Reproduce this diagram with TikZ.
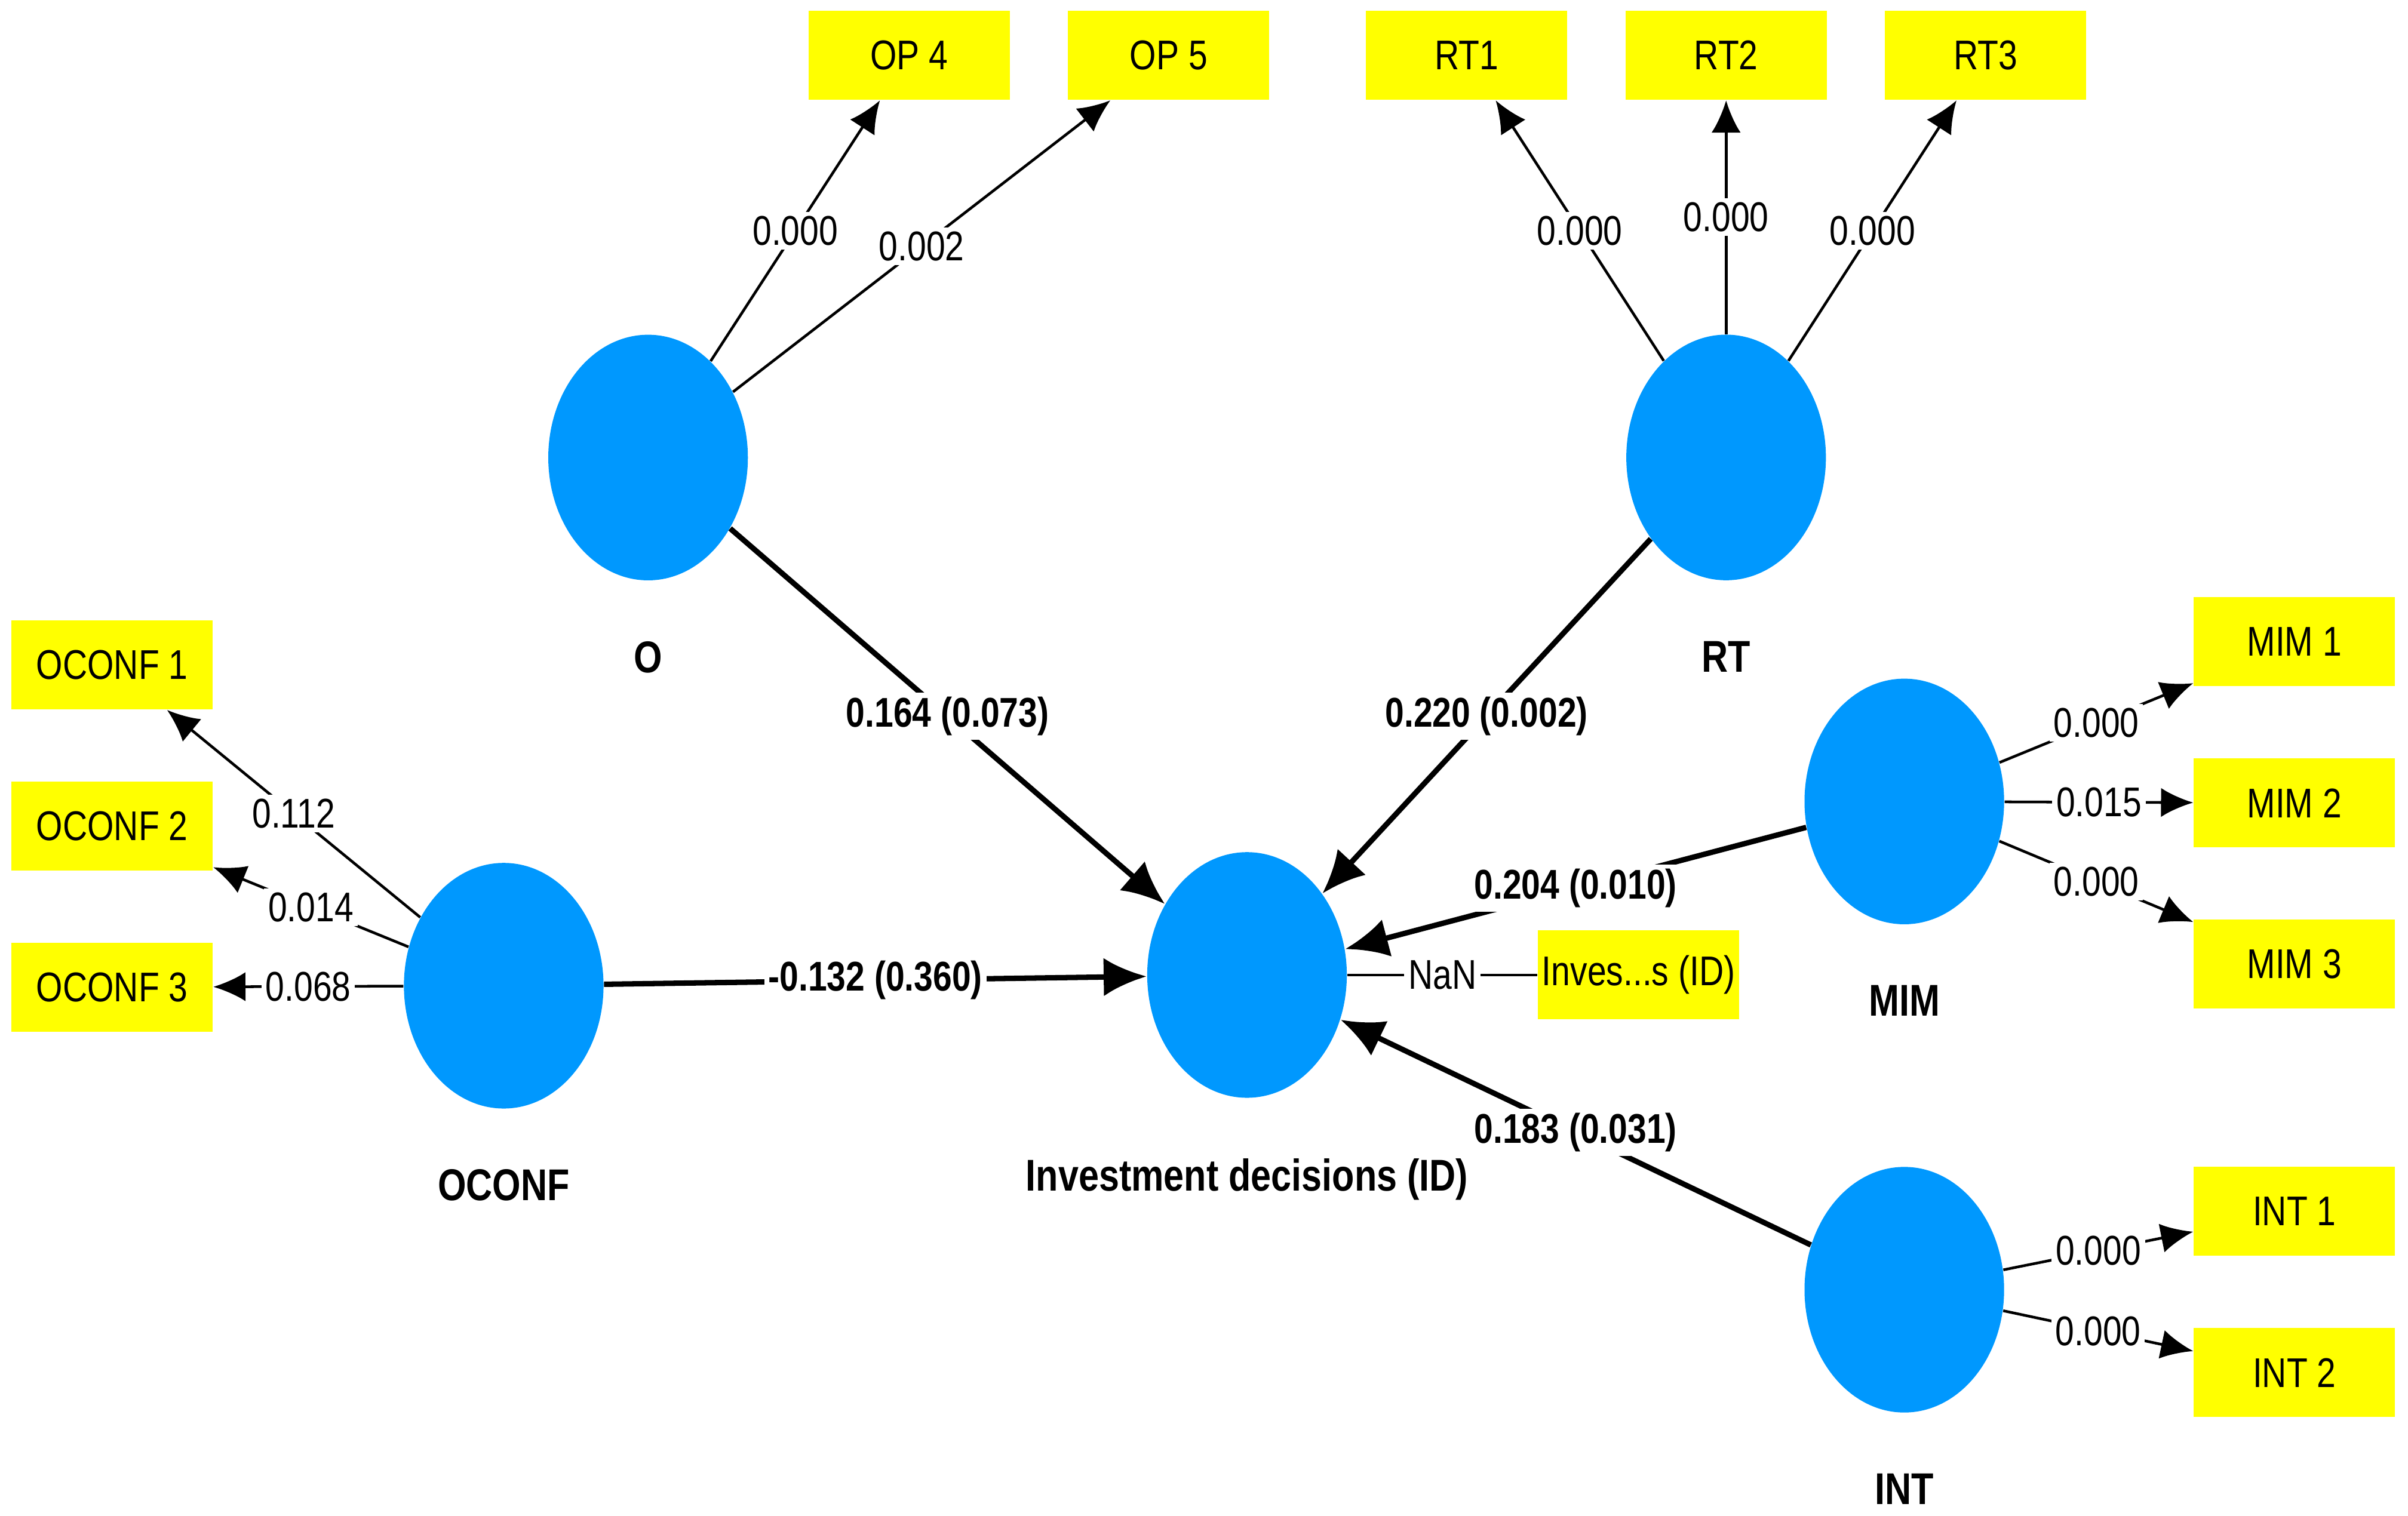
\documentclass[tikz,border=0pt]{standalone}
\usepackage{fontspec}
\setmainfont{Liberation Sans}[FakeStretch=0.82]
\usepackage{tikz}
\usetikzlibrary{positioning, arrows.meta, shapes}
\definecolor{lvblue}{HTML}{0098FE}
\definecolor{indyellow}{HTML}{FFFF00}
\tikzstyle{latent} = [ellipse, fill=lvblue, minimum width=2.6cm,
    minimum height=3.2cm, inner sep=0pt]
\tikzstyle{lvname} = [inner sep=0pt, yshift=-0.78cm, font=\fontsize{16.5}{18}\selectfont\bfseries]
\tikzstyle{indicator} = [rectangle, fill=indyellow, minimum width=2.62cm,
    minimum height=1.16cm, inner sep=0pt, font=\fontsize{15.4}{17}\selectfont]
\tikzstyle{line} = [draw, line width=1pt, -{Latex[length=0.42cm, width=0.38cm]}]
\tikzstyle{pathline} = [draw, line width=2pt, -{Latex[length=0.56cm, width=0.5cm]}]
\tikzstyle{weight} = [fill=white, inner sep=1.5pt, font=\fontsize{15.4}{17}\selectfont]
\tikzstyle{coef} = [fill=white, inner sep=1.5pt, font=\fontsize{15.4}{17}\selectfont\bfseries]

\begin{document}
\begin{tikzpicture}[x=0.02cm, y=-0.02cm]
    \useasboundingbox (0,0) rectangle (1568,987);

    \node[latent, label={[lvname]below:O}] (o) at (422,298) {};
    \node[indicator] (op4) at (592,36) {OP 4};
    \node[indicator, right of=op4, node distance=3.38cm] (op5) {OP 5};

    \node[indicator] (rt1) at (955,36) {RT1};
    \node[indicator, right of=rt1, node distance=3.38cm] (rt2) {RT2};
    \node[indicator, right of=rt2, node distance=3.38cm] (rt3) {RT3};
    \node[latent, below of=rt2, node distance=5.24cm, label={[lvname]below:RT}] (rt) {};

    \node[latent, label={[lvname]below:OCONF}] (oconf) at (328,642) {};
    \node[indicator] (oconf2) at (73,538) {OCONF 2};
    \node[indicator, above of=oconf2, node distance=2.1cm] (oconf1) {OCONF 1};
    \node[indicator, below of=oconf2, node distance=2.1cm] (oconf3) {OCONF 3};

    \node[latent, label={[lvname]below:Investment decisions (ID)}] (id) at (812,635) {};
    \node[indicator, right of=id, node distance=5.1cm] (idbox) {Inves...s (ID)};

    \node[latent, label={[lvname]below:MIM}] (mim) at (1240,522) {};
    \node[indicator] (mim2) at (1494,523) {MIM 2};
    \node[indicator, above of=mim2, node distance=2.1cm] (mim1) {MIM 1};
    \node[indicator, below of=mim2, node distance=2.1cm] (mim3) {MIM 3};

    \node[latent, label={[lvname]below:INT}] (int) at (1240,840) {};
    \node[indicator] (int1) at (1494,789) {INT 1};
    \node[indicator, below of=int1, node distance=2.1cm] (int2) {INT 2};

    % outer loadings
    \path[line] (o) -- node[weight] {0.000} (op4);
    \path[line] (o) -- node[weight] {0.002} (op5);
    \path[line] (rt) -- node[weight] {0.000} (rt1);
    \path[line] (rt) -- node[weight] {0.000} (rt2);
    \path[line] (rt) -- node[weight] {0.000} (rt3);
    \path[line] (oconf) -- node[weight] {0.112} (oconf1);
    \path[line] (oconf) -- node[weight] {0.014} (oconf2);
    \path[line] (oconf) -- node[weight] {0.068} (oconf3);
    \path[line] (mim) -- node[weight] {0.000} (mim1);
    \path[line] (mim) -- node[weight] {0.015} (mim2);
    \path[line] (mim) -- node[weight] {0.000} (mim3);
    \path[line] (int) -- node[weight] {0.000} (int1);
    \path[line] (int) -- node[weight] {0.000} (int2);
    \path[draw, line width=1pt] (id) -- node[weight] {NaN} (idbox);

    % inner model
    \path[pathline] (o) -- node[coef] {0.164 (0.073)} (id);
    \path[pathline] (rt) -- node[coef] {0.220 (0.002)} (id);
    \path[pathline] (oconf) -- node[coef] {-0.132 (0.360)} (id);
    \path[pathline] (mim) -- node[coef] {0.204 (0.010)} (id);
    \path[pathline] (int) -- node[coef] {0.183 (0.031)} (id);
\end{tikzpicture}
\end{document}
